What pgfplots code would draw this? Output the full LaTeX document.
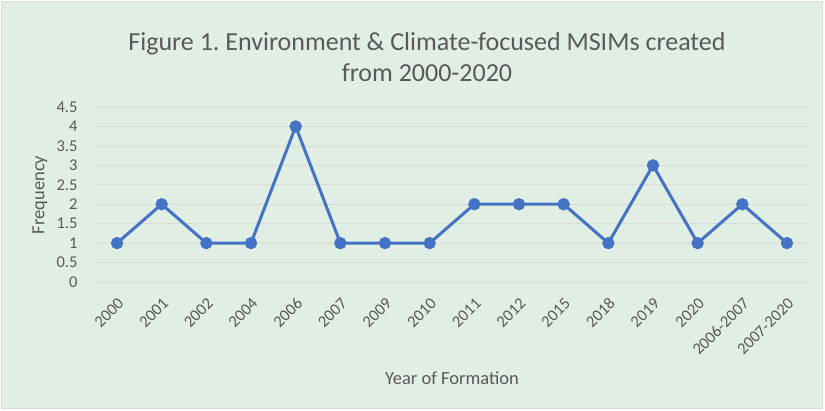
\documentclass[border=0pt]{standalone}
\usepackage{fontspec}
\setmainfont{Carlito}
\usepackage{pgfplots}
\pgfplotsset{compat=1.18}
\frenchspacing

\definecolor{chartbg}{RGB}{225,238,228}
\definecolor{frameline}{RGB}{217,217,217}
\definecolor{gridc}{RGB}{217,217,217}
\definecolor{txt}{RGB}{89,89,89}
\definecolor{series}{RGB}{68,114,196}

\pgfplotstableread{
idx freq
0  1
1  2
2  1
3  1
4  4
5  1
6  1
7  1
8  2
9  2
10 2
11 1
12 3
13 1
14 2
15 1
}\msimdata

\begin{document}
\begin{tikzpicture}[x=1bp,y=1bp]
\path[use as bounding box] (0,0) rectangle (825,410);
\fill[white] (0,0) rectangle (825,410);
\filldraw[fill=chartbg, draw=frameline, line width=0.75bp] (1.5,1.5) rectangle (822.5,408.5);

% title
\node[text=txt, align=center, font=\fontsize{26bp}{31bp}\selectfont]
  at (427,352.5) {Figure 1. Environment \& Climate-focused MSIMs created\\from 2000-2020};

% axis titles
\node[text=txt, font=\fontsize{18.5bp}{20bp}\selectfont] at (452,32) {Year of Formation};
\node[text=txt, font=\fontsize{18.5bp}{20bp}\selectfont, rotate=90] at (40,215) {Frequency};

\begin{axis}[
  at={(94.7bp,128bp)}, anchor=south west,
  scale only axis,
  width=714.6bp, height=175bp,
  xmin=-0.5, xmax=15.5,
  ymin=0, ymax=4.5,
  ytick={0,0.5,...,4.5},
  xtick={0,...,15},
  xticklabels={2000,2001,2002,2004,2006,2007,2009,2010,2011,2012,2015,2018,2019,2020,2006-2007,2007-2020},
  axis line style={draw=none},
  major tick length=0pt,
  ymajorgrids,
  grid style={gridc, line width=0.75bp},
  /pgf/number format/assume math mode=true,
  /pgf/number format/fixed,
  tick label style={font=\fontsize{16.5bp}{18bp}\selectfont, text=txt},
  yticklabel style={anchor=east, inner sep=0pt, xshift=-17bp},
  xticklabel style={xshift=4bp, yshift=-19bp, rotate=45, anchor=east, inner sep=0pt},
  clip=false,
]
\addplot[series, line width=3bp, mark=*, mark size=4.6bp, mark options={solid, fill=series}]
  table[x=idx, y=freq] {\msimdata};
\end{axis}
\end{tikzpicture}
\end{document}
